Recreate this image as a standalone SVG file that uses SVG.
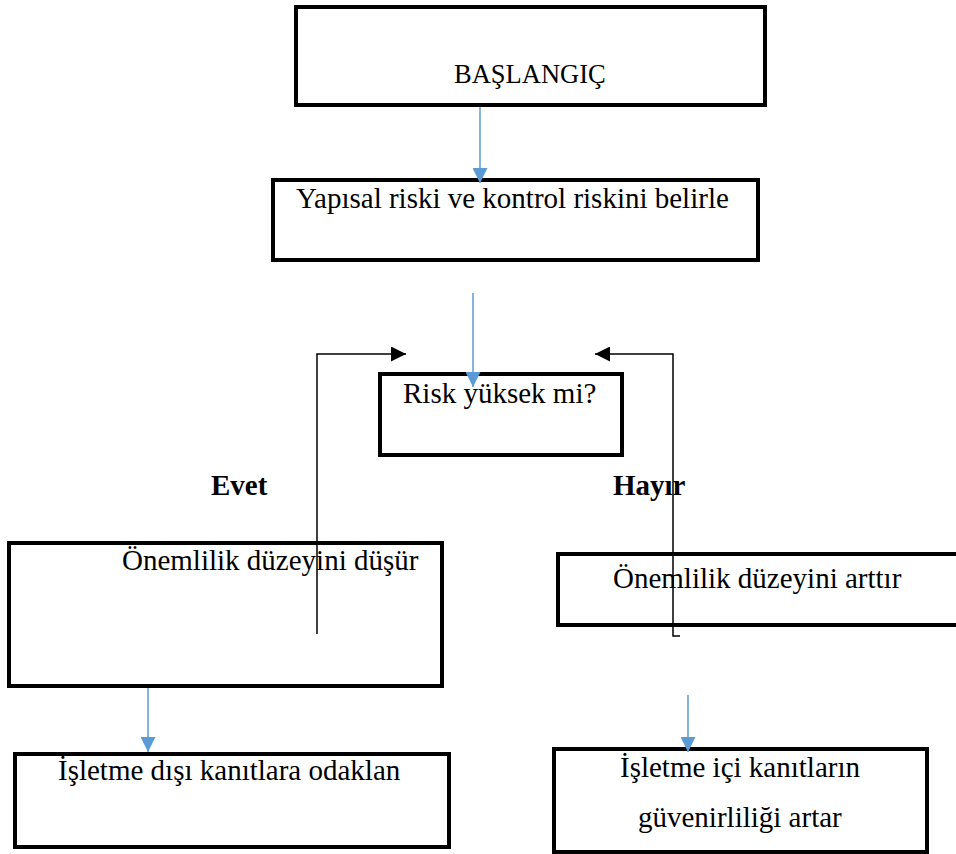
<svg xmlns="http://www.w3.org/2000/svg" width="956" height="854" viewBox="0 0 956 854">
<style>
.box{fill:#fff;stroke:#000;stroke-width:4}
.t{font-family:"Liberation Serif","Times New Roman",serif;font-size:29px;fill:#000}
.b{font-weight:bold}
.blue{stroke:#5b9bd5;stroke-width:1.5;fill:none}
.blk{stroke:#000;stroke-width:1.5;fill:none}
</style>
<defs>
<marker id="ab" markerWidth="15" markerHeight="15" viewBox="0 0 15 15" refX="15" refY="7.5" orient="auto" markerUnits="userSpaceOnUse">
<path d="M0,0 L15,7.5 L0,15 Z" fill="#5b9bd5"/>
</marker>
<marker id="ak" markerWidth="15" markerHeight="15" viewBox="0 0 15 15" refX="15" refY="7.5" orient="auto" markerUnits="userSpaceOnUse">
<path d="M0,0 L15,7.5 L0,15 Z" fill="#000"/>
</marker>
</defs>
<rect width="956" height="854" fill="#fff"/>
<g id="n-start">
<rect class="box" x="296" y="7" width="469" height="98"/>
<text class="t" x="454" y="83" style="font-size:26.5px">BAŞLANGIÇ</text>
</g>
<g id="n-determine">
<rect class="box" x="273" y="180" width="485" height="80"/>
<text class="t" x="296" y="208">Yapısal riski ve kontrol riskini belirle</text>
</g>
<g id="n-risk">
<rect class="box" x="380" y="374" width="242" height="81"/>
<text class="t" x="403" y="403">Risk yüksek mi?</text>
</g>
<g id="n-lower">
<rect class="box" x="9" y="543" width="433" height="143"/>
<text class="t" x="122" y="570">Önemlilik düzeyini düşür</text>
</g>
<g id="n-raise">
<rect class="box" x="558" y="554" width="410" height="71"/>
<text class="t" x="613" y="588">Önemlilik düzeyini arttır</text>
</g>
<g id="n-external">
<rect class="box" x="15" y="754" width="434" height="93"/>
<text class="t" x="58" y="780">İşletme dışı kanıtlara odaklan</text>
</g>
<g id="n-internal">
<rect class="box" x="554" y="749" width="373" height="103"/>
<text class="t" x="620" y="777">İşletme içi kanıtların</text>
<text class="t" x="638" y="827">güvenirliliği artar</text>
</g>
<g id="labels">
<text class="t b" x="211" y="495">Evet</text>
<text class="t b" x="613" y="495">Hayır</text>
</g>
<g id="connectors">
<line class="blue" x1="480" y1="107" x2="480" y2="183" marker-end="url(#ab)"/>
<line class="blue" x1="473" y1="293" x2="473" y2="387" marker-end="url(#ab)"/>
<line class="blue" x1="148" y1="688" x2="148" y2="752" marker-end="url(#ab)"/>
<line class="blue" x1="688" y1="695" x2="688" y2="752" marker-end="url(#ab)"/>
<polyline class="blk" points="317,634 317,354 406,354" marker-end="url(#ak)"/>
<polyline class="blk" points="680,636 673,636 673,354 595,354" marker-end="url(#ak)"/>
</g>
</svg>
